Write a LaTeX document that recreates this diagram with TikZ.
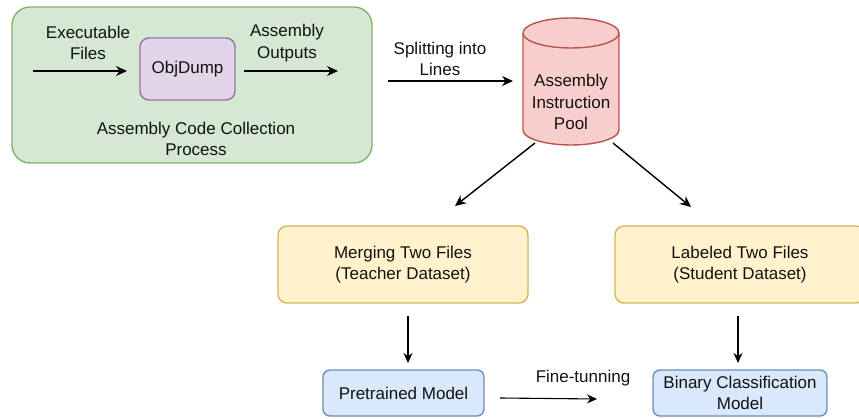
\documentclass[tikz,border=0pt]{standalone}
\usepackage{fontspec}
\setmainfont{Liberation Sans}
\usetikzlibrary{arrows.meta}
\definecolor{txt}{HTML}{111111}
\definecolor{grnF}{HTML}{D5E8D4}\definecolor{grnD}{HTML}{82B366}
\definecolor{purF}{HTML}{E1D5E7}\definecolor{purD}{HTML}{9673A6}
\definecolor{redF}{HTML}{F8CECC}\definecolor{redD}{HTML}{B85450}
\definecolor{yelF}{HTML}{FFF2CC}\definecolor{yelD}{HTML}{D6B656}
\definecolor{bluF}{HTML}{DAE8FC}\definecolor{bluD}{HTML}{6C8EBF}
\tikzset{
  every node/.style={text=txt, font=\fontsize{17}{21.5}\selectfont, align=center, inner sep=0pt},
  box/.style={draw, line width=1.4pt, rounded corners=9pt},
  flow/.style={draw=black, line width=1.4pt, -{Stealth[length=11pt,width=10pt]}},
  thin flow/.style={draw=black, line width=1.1pt, -{Stealth[length=10pt,width=9pt]}},
}
\begin{document}
\begin{tikzpicture}[x=1pt,y=1pt]
\useasboundingbox (0,0) rectangle (859,-419);
\begin{scope}
\clip (0,0) rectangle (859,-419);

% collection stage
\node[box, fill=grnF, draw=grnD, rounded corners=18pt, minimum width=360pt, minimum height=156pt] (collect) at (192,-85) {};
\node[box, fill=purF, draw=purD, minimum width=95pt, minimum height=62pt] (objdump) at (187.5,-69) {ObjDump};
\node (execlbl) at (88,-43) {Executable\\Files};
\node (asmlbl) at (287,-43) {Assembly\\Outputs};
\node (collectlbl) at (196,-139) {Assembly Code Collection\\Process};
\coordinate (inStart) at (33,-71);
\coordinate (inEnd) at (127,-71);
\coordinate (outStart) at (244,-71);
\coordinate (outEnd) at (338,-71);
\draw[flow] (inStart) -- (inEnd);
\draw[flow] (outStart) -- (outEnd);

% instruction pool (cylinder)
\node[minimum width=96pt, minimum height=127pt] (pool) at (571,-81.5) {};
\fill[redF] (523,-33) -- (523,-130) arc[start angle=180,end angle=360,x radius=48,y radius=15]
  -- (619,-33) arc[start angle=0,end angle=180,x radius=48,y radius=15] -- cycle;
\draw[redD, line width=1.4pt] (523,-33) -- (523,-130) arc[start angle=180,end angle=360,x radius=48,y radius=15]
  -- (619,-33);
\draw[redD, line width=1.4pt] (571,-33) ellipse[x radius=48,y radius=15];
\node (poollbl) at (571,-102) {Assembly\\Instruction\\Pool};

\node (splitlbl) at (440,-59) {Splitting into\\Lines};
\coordinate (splitStart) at (388,-81);
\coordinate (splitEnd) at (513,-81);
\draw[flow] (splitStart) -- (splitEnd);

% datasets
\node[box, fill=yelF, draw=yelD, minimum width=250pt, minimum height=77pt] (teacher) at (403,-264.5) {Merging Two Files\\(Teacher Dataset)};
\node[box, fill=yelF, draw=yelD, minimum width=250pt, minimum height=77pt] (student) at (740,-264.5) {Labeled Two Files\\(Student Dataset)};
\coordinate (poolL) at (535,-143);
\coordinate (poolR) at (613,-143);
\coordinate (teacherIn) at (455,-206);
\coordinate (studentIn) at (691,-207);
\draw[flow] (poolL) -- (teacherIn);
\draw[flow] (poolR) -- (studentIn);

% models
\node[box, fill=bluF, draw=bluD, rounded corners=7pt, minimum width=161pt, minimum height=46pt] (pretrained) at (403.5,-393) {Pretrained Model};
\node[box, fill=bluF, draw=bluD, rounded corners=7pt, minimum width=174pt, minimum height=46pt] (binary) at (740,-393) {Binary Classification\\Model};
\coordinate (teacherOut) at (408,-316);
\coordinate (pretrainedIn) at (408,-363);
\coordinate (studentOut) at (738,-316);
\coordinate (binaryIn) at (738,-363);
\draw[thin flow] (teacherOut) -- (pretrainedIn);
\draw[thin flow] (studentOut) -- (binaryIn);

\node (finelbl) at (583,-378) {Fine-tunning};
\coordinate (fineStart) at (500,-398);
\coordinate (fineEnd) at (597,-399);
\draw[thin flow] (fineStart) -- (fineEnd);
\end{scope}
\end{tikzpicture}
\end{document}
